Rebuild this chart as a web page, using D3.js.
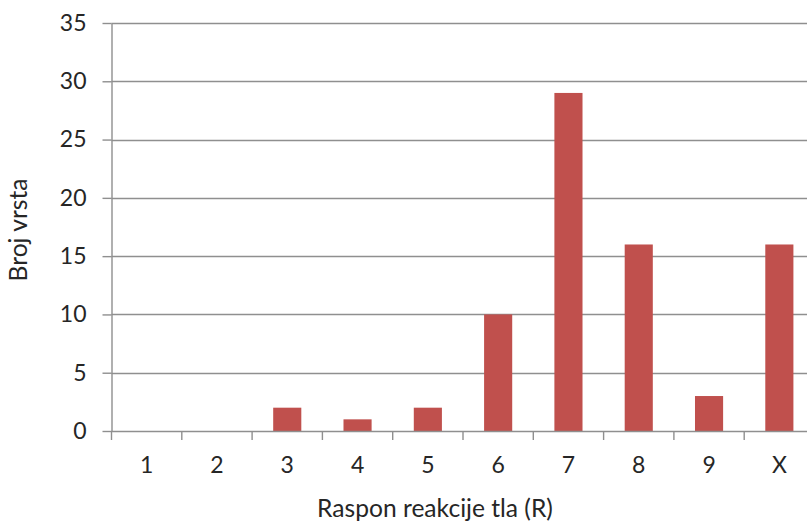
<!DOCTYPE html>
<html>
<head>
<meta charset="utf-8">
<script src="https://cdn.jsdelivr.net/npm/d3@7"></script>
<style>
  html, body { margin: 0; padding: 0; background: #fff; }
  svg { display: block; }
  text { font-family: Lato, "Open Sans", sans-serif; fill: #262626; }
</style>
</head>
<body>
<svg id="chart" width="807" height="523"></svg>
<script>
// Species count per soil reaction range (R)
const categories = ["1", "2", "3", "4", "5", "6", "7", "8", "9", "X"];
const speciesCount = [0, 0, 2, 1, 2, 10, 29, 16, 3, 16];
const yTicks = [0, 5, 10, 15, 20, 25, 30, 35];
const xTitle = "Raspon reakcije tla (R)";
const yTitle = "Broj vrsta";

const data = categories.map((c, i) => ({ cat: c, value: speciesCount[i] }));

const svg = d3.select("#chart");
const plotLeft = 111.5, plotRight = 814.5, plotTop = 23, plotBottom = 431;

const x = d3.scaleBand()
  .domain(categories)
  .range([plotLeft, plotRight])
  .paddingInner(0.6)
  .paddingOuter(0.3);

const y = d3.scaleLinear()
  .domain([0, 35])
  .range([plotBottom, plotTop]);

const gridColor = "#8f8f8f";

// horizontal gridlines
svg.append("g")
  .selectAll("line")
  .data(yTicks.filter(d => d > 0))
  .join("line")
  .attr("x1", plotLeft).attr("x2", 807)
  .attr("y1", d => Math.round(y(d)) + 0.5)
  .attr("y2", d => Math.round(y(d)) + 0.5)
  .attr("stroke", gridColor)
  .attr("stroke-width", 1.4);

// bars
svg.append("g")
  .selectAll("rect")
  .data(data)
  .join("rect")
  .attr("x", d => x(d.cat))
  .attr("width", x.bandwidth())
  .attr("y", d => y(d.value))
  .attr("height", d => y(0) - y(d.value))
  .attr("fill", "#C0504D");

// y axis
const yAxis = svg.append("g")
  .attr("transform", `translate(${plotLeft},0)`)
  .call(d3.axisLeft(y).tickValues(yTicks).tickSize(9).tickPadding(16).tickSizeOuter(0));
yAxis.select(".domain").attr("stroke", gridColor).attr("stroke-width", 1.4);
yAxis.selectAll(".tick line").attr("stroke", gridColor).attr("stroke-width", 1.4);
yAxis.selectAll(".tick text")
  .attr("font-size", 23)
  .attr("fill", "#262626")
  .style("font-family", "Lato, 'Open Sans', sans-serif");

// x axis baseline
svg.append("line")
  .attr("x1", plotLeft).attr("x2", 807)
  .attr("y1", Math.round(y(0)) + 0.5).attr("y2", Math.round(y(0)) + 0.5)
  .attr("stroke", gridColor).attr("stroke-width", 1.4);

// x ticks at category boundaries
const half = x.step() * x.paddingInner() / 2;
const boundaries = categories.map(c => x(c) - half).concat([x(categories[categories.length - 1]) + x.bandwidth() + half]);
svg.append("g")
  .selectAll("line")
  .data(boundaries)
  .join("line")
  .attr("x1", d => d).attr("x2", d => d)
  .attr("y1", y(0)).attr("y2", y(0) + 9)
  .attr("stroke", gridColor).attr("stroke-width", 1.4);

// x category labels
const xAxis = svg.append("g")
  .attr("transform", `translate(0,${plotBottom})`)
  .call(d3.axisBottom(x).tickSize(0).tickPadding(26));
xAxis.select(".domain").remove();
xAxis.selectAll(".tick text")
  .attr("font-size", 23)
  .attr("fill", "#262626")
  .style("font-family", "Lato, 'Open Sans', sans-serif");

// axis titles
svg.append("text")
  .attr("x", 435).attr("y", 517)
  .attr("text-anchor", "middle")
  .attr("font-size", 24.6)
  .text(xTitle);

svg.append("text")
  .attr("transform", "translate(27,230) rotate(-90)")
  .attr("text-anchor", "middle")
  .attr("font-size", 24.6)
  .text(yTitle);
</script>
</body>
</html>
